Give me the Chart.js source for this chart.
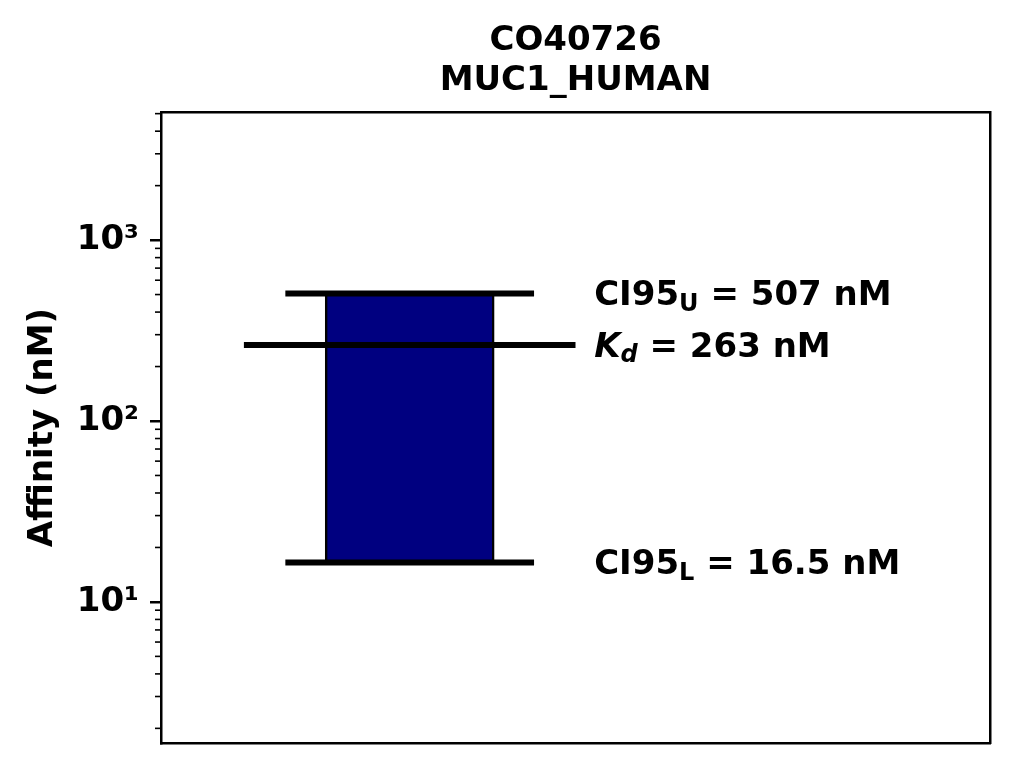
<!DOCTYPE html>
<html>
<head>
<meta charset="utf-8">
<script src="https://cdn.jsdelivr.net/npm/chart.js@4"></script>
<style>
  body { margin: 0; background: #fff; }
  #wrap { width: 1014px; height: 768px; }
</style>
</head>
<body>
<div id="wrap"><canvas id="affinity-chart" width="1014" height="768"></canvas></div>
<script>
const titleLines = ['CO40726', 'MUC1_HUMAN'];
const yAxisLabel = 'Affinity (nM)';
const majorTicks = [10, 100, 1000];
const majorTickLabels = ['10¹', '10²', '10³'];
const minorMultipliers = [2, 3, 4, 5, 6, 7, 8, 9];
const minorDecades = [1, 10, 100, 1000];

// lower CI, Kd, upper CI
const estimateNames = ['CI95', 'K', 'CI95'];
const estimateSubs = ['L', 'd', 'U'];
const estimateValues = [16.5, 263, 507];

const FONT = '"DejaVu Sans", sans-serif';
const labelX = 0.445;
const ciHalf = 0.3;
const kdHalf = 0.4;

function segment(half, value) {
  return [{ x: -half, y: value }, { x: half, y: value }];
}

const minorTickPlugin = {
  id: 'minorTicks',
  afterDraw(chart) {
    const { ctx, chartArea, scales: { y } } = chart;
    ctx.save();
    ctx.strokeStyle = '#000';
    ctx.lineWidth = 1.6;
    minorDecades.forEach(d => {
      minorMultipliers.forEach(m => {
        const v = m * d;
        if (v < y.min || v > y.max) return;
        const py = y.getPixelForValue(v);
        ctx.beginPath();
        ctx.moveTo(chartArea.left - 6, py);
        ctx.lineTo(chartArea.left, py);
        ctx.stroke();
      });
    });
    ctx.restore();
  }
};

const estimateLabelPlugin = {
  id: 'estimateLabels',
  afterDatasetsDraw(chart) {
    const { ctx, scales: { x, y } } = chart;
    ctx.save();
    ctx.fillStyle = '#000';
    ctx.textBaseline = 'middle';
    ctx.textAlign = 'left';
    estimateValues.forEach((v, i) => {
      const italic = estimateNames[i] === 'K' ? 'italic ' : '';
      let px = x.getPixelForValue(labelX);
      const py = y.getPixelForValue(v) + 3;
      ctx.font = `${italic}bold 34px ${FONT}`;
      ctx.fillText(estimateNames[i], px, py);
      px += ctx.measureText(estimateNames[i]).width;
      ctx.font = `${italic}bold 24px ${FONT}`;
      ctx.fillText(estimateSubs[i], px, py + 8);
      px += ctx.measureText(estimateSubs[i]).width;
      ctx.font = `bold 34px ${FONT}`;
      ctx.fillText(` = ${v} nM`, px, py);
    });
    ctx.restore();
  }
};

const lineStyle = { type: 'line', borderColor: '#000', borderWidth: 6, pointRadius: 0, fill: false, order: 0 };
const spine = { display: true, color: '#000', width: 2.5 };

new Chart(document.getElementById('affinity-chart'), {
  data: {
    datasets: [
      { ...lineStyle, data: segment(ciHalf, estimateValues[0]) },
      { ...lineStyle, data: segment(kdHalf, estimateValues[1]) },
      { ...lineStyle, data: segment(ciHalf, estimateValues[2]) },
      {
        type: 'bar',
        data: [{ x: 0, y: [estimateValues[0], estimateValues[2]] }],
        backgroundColor: '#000080',
        borderColor: '#000',
        borderWidth: 2.5,
        borderSkipped: false,
        barThickness: 169,
        order: 1
      }
    ]
  },
  options: {
    responsive: false,
    animation: false,
    layout: { padding: 0 },
    plugins: {
      legend: { display: false },
      tooltip: { enabled: false },
      title: {
        display: true,
        fullSize: false,
        text: titleLines,
        color: '#000',
        font: { family: FONT, size: 34, weight: 'bold', lineHeight: 1.18 },
        padding: { top: 21, bottom: 11 }
      }
    },
    scales: {
      x: {
        type: 'linear', min: -0.6, max: 1.4, offset: false,
        ticks: { display: false },
        grid: { display: false, offset: false },
        border: spine,
        afterFit: s => { s.height = 25; }
      },
      x2: {
        type: 'linear', position: 'top',
        ticks: { display: false },
        grid: { display: false },
        border: spine,
        afterFit: s => { s.height = 0; }
      },
      y: {
        type: 'logarithmic', min: 1.66, max: 5090,
        afterBuildTicks: s => { s.ticks = majorTicks.map(v => ({ value: v })); },
        ticks: {
          callback: v => majorTickLabels[majorTicks.indexOf(v)],
          color: '#000',
          font: { family: FONT, size: 34, weight: 'bold' },
          padding: 11
        },
        grid: { display: true, drawOnChartArea: false, drawTicks: true, tickLength: 11, lineWidth: 2.5, color: '#000' },
        border: spine,
        title: {
          display: true, text: yAxisLabel, color: '#000',
          font: { family: FONT, size: 34, weight: 'bold' },
          padding: { top: 23, bottom: 0 }
        },
        afterFit: s => { s.width = 161; s.paddingTop = 0; s.paddingBottom = 0; }
      },
      y2: {
        type: 'linear', position: 'right',
        ticks: { display: false },
        grid: { display: false },
        border: spine,
        afterFit: s => { s.width = 24; }
      }
    }
  },
  plugins: [minorTickPlugin, estimateLabelPlugin]
});
</script>
</body>
</html>
